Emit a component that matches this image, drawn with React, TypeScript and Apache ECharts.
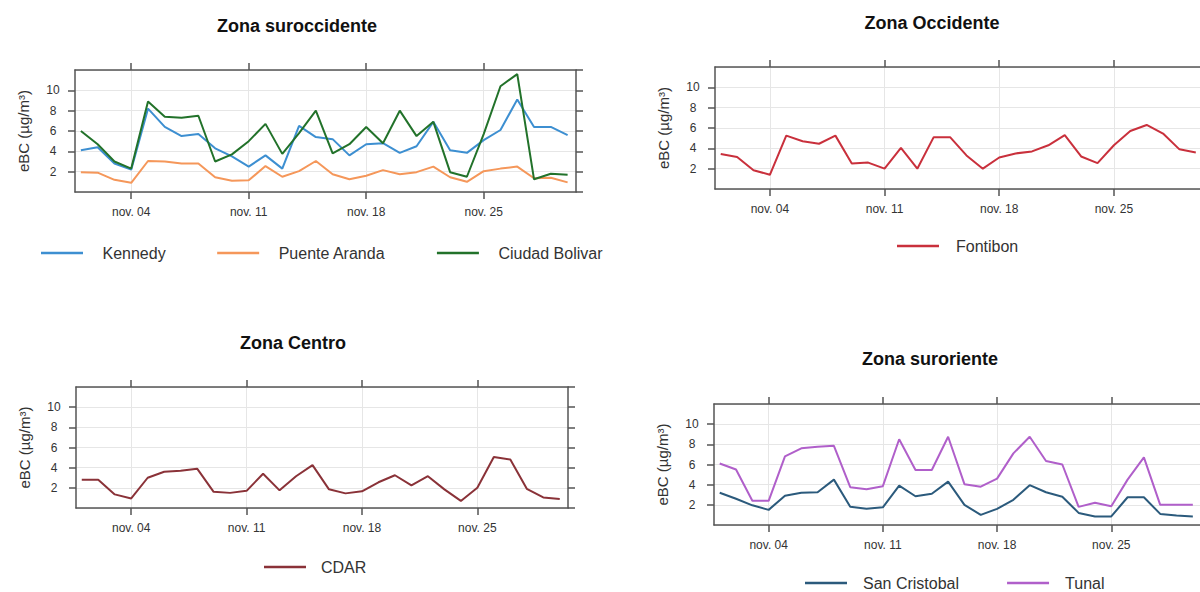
import React, { useEffect, useRef } from "react";
import * as echarts from "echarts";

// Days of November (x positions of every observation)
const days = [
  1, 2, 3, 4, 5, 6, 7, 8, 9, 10, 11, 12, 13, 14, 15,
  16, 17, 18, 19, 20, 21, 22, 23, 24, 25, 26, 27, 28, 29, 30,
];

// Labelled dates on the time axis
const tickDays = [4, 11, 18, 25];
const tickLabels = ["nov. 04", "nov. 11", "nov. 18", "nov. 25"];

// Daily eBC means (µg/m³) per station
const kennedy = [
  4.1, 4.4, 2.8, 2.2, 8.2, 6.4, 5.5, 5.7, 4.3, 3.5, 2.5, 3.6, 2.3, 6.5, 5.4,
  5.2, 3.6, 4.7, 4.8, 3.85, 4.5, 6.9, 4.1, 3.85, 5.1, 6.1, 9.1, 6.4, 6.4, 5.6,
];
const puenteAranda = [
  1.95, 1.9, 1.2, 0.9, 3.05, 3.0, 2.8, 2.8, 1.45, 1.1, 1.15, 2.55, 1.5, 2.05, 3.05,
  1.75, 1.25, 1.6, 2.15, 1.75, 1.95, 2.5, 1.45, 1.0, 2.05, 2.3, 2.5, 1.35, 1.4, 0.95,
];
const ciudadBolivar = [
  6.0, 4.7, 3.0, 2.3, 8.9, 7.4, 7.3, 7.5, 3.0, 3.7, 5.0, 6.7, 3.75, 5.8, 8.0,
  3.8, 4.7, 6.4, 4.8, 8.0, 5.5, 6.9, 1.95, 1.5, 5.7, 10.4, 11.6, 1.25, 1.8, 1.7,
];
const fontibon = [
  3.45, 3.15, 1.85, 1.4, 5.25, 4.7, 4.45, 5.25, 2.5, 2.6, 2.0, 4.05, 2.0, 5.1, 5.1,
  3.3, 2.0, 3.1, 3.5, 3.7, 4.3, 5.3, 3.2, 2.55, 4.3, 5.7, 6.3, 5.45, 3.9, 3.6,
];
const cdar = [
  2.8, 2.8, 1.35, 0.95, 3.0, 3.6, 3.7, 3.9, 1.6, 1.5, 1.7, 3.4, 1.75, 3.15, 4.25,
  1.85, 1.45, 1.65, 2.55, 3.25, 2.25, 3.15, 1.85, 0.7, 2.0, 5.05, 4.8, 1.9, 1.05, 0.9,
];
const sanCristobal = [
  3.2, 2.6, 1.95, 1.5, 2.9, 3.2, 3.25, 4.5, 1.8, 1.6, 1.75, 3.9, 2.85, 3.1, 4.3,
  2.0, 1.0, 1.6, 2.5, 3.95, 3.25, 2.8, 1.2, 0.85, 0.85, 2.75, 2.75, 1.1, 0.95, 0.85,
];
const tunal = [
  6.1, 5.5, 2.4, 2.4, 6.8, 7.6, 7.75, 7.85, 3.75, 3.55, 3.85, 8.5, 5.45, 5.45, 8.75,
  4.05, 3.8, 4.6, 7.1, 8.75, 6.35, 6.0, 1.8, 2.2, 1.85, 4.5, 6.7, 2.0, 2.0, 2.0,
];

const FONT = '"Liberation Sans", Arial, sans-serif';
const AXIS_COLOR = "#555555";
const GRID_COLOR = "#e6e6e6";
const LABEL_COLOR = "#333333";

type Station = { name: string; values: number[]; color: string };
type Panel = {
  title: string;
  titleX: number;
  titleY: number;
  box: { left: number; top: number; width: number; height: number };
  legendLeft: number;
  legendY: number;
  legendTextPad: number;
  legendGap: number;
  stations: Station[];
};

const panels: Panel[] = [
  {
    title: "Zona suroccidente",
    titleX: 297,
    titleY: 26,
    box: { left: 75, top: 70, width: 501, height: 122 },
    legendLeft: 41,
    legendY: 254,
    legendTextPad: 14.5,
    legendGap: 51.5,
    stations: [
      { name: "Kennedy", values: kennedy, color: "#3d8fd1" },
      { name: "Puente Aranda", values: puenteAranda, color: "#f5975a" },
      { name: "Ciudad Bolivar", values: ciudadBolivar, color: "#22722a" },
    ],
  },
  {
    title: "Zona Occidente",
    titleX: 932,
    titleY: 23,
    box: { left: 715, top: 67, width: 489, height: 122 },
    legendLeft: 897,
    legendY: 247,
    legendTextPad: 12,
    legendGap: 50,
    stations: [{ name: "Fontibon", values: fontibon, color: "#c9303c" }],
  },
  {
    title: "Zona Centro",
    titleX: 293,
    titleY: 343,
    box: { left: 76, top: 387, width: 492, height: 121 },
    legendLeft: 264,
    legendY: 568,
    legendTextPad: 10,
    legendGap: 50,
    stations: [{ name: "CDAR", values: cdar, color: "#8a3238" }],
  },
  {
    title: "Zona suroriente",
    titleX: 930,
    titleY: 359,
    box: { left: 714, top: 404, width: 487, height: 121 },
    legendLeft: 805,
    legendY: 584,
    legendTextPad: 11,
    legendGap: 48,
    stations: [
      { name: "San Cristobal", values: sanCristobal, color: "#2b5a7c" },
      { name: "Tunal", values: tunal, color: "#b05fca" },
    ],
  },
];

const axisLineStyle = { color: AXIS_COLOR, width: 1.5 };
const LEGEND_TEXT_SIZE = 16;

function buildOption(): echarts.EChartsOption {
  const grid: any[] = [];
  const xAxis: any[] = [];
  const yAxis: any[] = [];
  const series: any[] = [];
  const legend: any[] = [];
  const graphic: any[] = [];

  panels.forEach((p, i) => {
    grid.push({ ...p.box, containLabel: false, outerBoundsMode: "none" });

    const xBase = {
      type: "value",
      gridIndex: i,
      min: 0.65,
      max: 30.5,
      axisLine: { show: true, onZero: false, lineStyle: axisLineStyle },
      axisTick: {
        show: true,
        customValues: tickDays,
        length: 7,
        inside: false,
        lineStyle: axisLineStyle,
      },
    };
    xAxis.push({
      ...xBase,
      position: "bottom",
      axisLabel: {
        show: true,
        customValues: tickDays,
        formatter: (v: number) => tickLabels[tickDays.indexOf(Math.round(v))] ?? "",
        margin: 14,
        fontSize: 12,
        fontFamily: FONT,
        color: LABEL_COLOR,
      },
      splitLine: { show: true, lineStyle: { color: GRID_COLOR, width: 1 } },
    });
    xAxis.push({
      ...xBase,
      position: "top",
      axisLabel: { show: false },
      splitLine: { show: false },
    });

    const yBase = {
      type: "value",
      gridIndex: i,
      min: 0,
      max: 12,
      interval: 2,
      axisLine: { show: true, onZero: false, lineStyle: axisLineStyle },
      axisTick: { show: true, length: 7, inside: false, lineStyle: axisLineStyle },
    };
    yAxis.push({
      ...yBase,
      position: "left",
      name: "eBC (µg/m³)",
      nameLocation: "middle",
      nameRotate: 90,
      nameGap: 44,
      nameTextStyle: { fontSize: 15, fontFamily: FONT, color: LABEL_COLOR },
      axisLabel: {
        show: true,
        showMinLabel: false,
        showMaxLabel: false,
        align: "center",
        margin: 22,
        fontSize: 12,
        fontFamily: FONT,
        color: LABEL_COLOR,
      },
      splitLine: { show: true, lineStyle: { color: GRID_COLOR, width: 1 } },
    });
    yAxis.push({
      ...yBase,
      position: "right",
      axisLabel: { show: false },
      splitLine: { show: false },
    });

    p.stations.forEach((s) => {
      series.push({
        type: "line",
        name: s.name,
        xAxisIndex: 2 * i,
        yAxisIndex: 2 * i,
        data: days.map((d, k) => [d, s.values[k]]),
        symbol: "none",
        showSymbol: false,
        lineStyle: { color: s.color, width: 2 },
        itemStyle: { color: s.color },
        z: 3,
      });
    });

    // Plain line keys: a thin filled bar in each station's colour
    legend.push({
      data: p.stations.map((s) => ({
        name: s.name,
        icon: "rect",
        itemStyle: { color: s.color, borderWidth: 0 },
      })),
      left: p.legendLeft,
      top: p.legendY - LEGEND_TEXT_SIZE / 2 - 1,
      padding: 0,
      itemWidth: 42,
      itemHeight: 2.5,
      itemGap: p.legendGap,
      selectedMode: false,
      textStyle: {
        fontSize: LEGEND_TEXT_SIZE,
        fontFamily: FONT,
        color: LABEL_COLOR,
        padding: [0, 0, 0, p.legendTextPad],
      },
    });

    graphic.push({
      type: "text",
      x: p.titleX,
      y: p.titleY,
      style: {
        text: p.title,
        fontSize: 18,
        fontWeight: "bold",
        fontFamily: FONT,
        fill: "#111111",
        align: "center",
        verticalAlign: "middle",
        textAlign: "center",
        textVerticalAlign: "middle",
      },
    });
  });

  return {
    animation: false,
    backgroundColor: "#ffffff",
    grid,
    xAxis,
    yAxis,
    series,
    legend,
    graphic,
  } as echarts.EChartsOption;
}

export default function App() {
  const ref = useRef<HTMLDivElement>(null);

  useEffect(() => {
    if (!ref.current) return;
    const chart = echarts.init(ref.current, undefined, { renderer: "svg" });
    chart.setOption(buildOption());
    return () => {
      chart.dispose();
    };
  }, []);

  return (
    <div
      ref={ref}
      style={{
        position: "fixed",
        left: 0,
        top: 0,
        width: 1200,
        height: 592,
        background: "#ffffff",
      }}
    />
  );
}
